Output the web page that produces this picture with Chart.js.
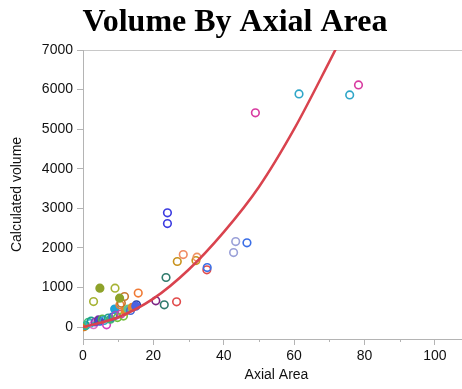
<!DOCTYPE html>
<html>
<head>
<meta charset="utf-8">
<script src="https://cdn.jsdelivr.net/npm/chart.js"></script>
<style>
  html, body { margin: 0; padding: 0; background: #fff; overflow: hidden; }
  #wrap { position: relative; width: 490px; height: 389px; }
</style>
</head>
<body>
<div id="wrap"><canvas id="chart"></canvas></div>
<script>
// measured specimens: axial area vs calculated volume
const axialArea = [0.3, 0.8, 1.5, 2.0, 2.3, 3.0, 3.5, 4.4, 4.8, 5.5, 6.0, 6.7, 7.2, 7.8, 8.5, 9.0, 9.3, 9.8,
  10.5, 10.9, 10.8, 11.5, 11.8, 12.0, 12.8, 13.5, 14.0, 15.2, 15.0, 15.7, 4.8, 9.1, 3.0, 10.4,
  20.7, 23.1, 23.6, 26.6, 26.8, 28.5, 32.1, 32.4, 35.2, 35.3, 24.0, 24.0, 42.8, 43.4, 46.6, 49.0, 61.4, 75.8, 78.3];
const volume = [10, 40, 120, 90, 150, 60, 130, 183, 150, 200, 170, 58, 230, 200, 260, 455, 300, 240,
  563, 606, 330, 280, 773, 400, 455, 420, 500, 563, 530, 859, 985, 985, 646, 732,
  664, 563, 1253, 639, 1657, 1833, 1682, 1768, 1447, 1505, 2886, 2616, 1884, 2162, 2129, 5412, 5891, 5866, 6119];

// trend curve
const fitArea = [0, 10, 20, 30, 40, 50, 60, 70, 72];
const fitVolume = [0, 250, 720, 1450, 2400, 3540, 5000, 6700, 7050];

const xTicks = { min: 0, max: 110, step: 10, labelEvery: 20 };
const yTicks = { min: -300, max: 7000, step: 1000 };

// marker styling
const markerColors = ['#e07b1a', '#27b3a0', '#3cc07a', '#2fb2cf', '#1a9e8a', '#e070c8', '#8a3fb5', '#7a2fa0',
  '#3355d6', '#55b84a', '#2ea6c6', '#d23fbf', '#20a08e', '#3fb47a', '#3a62d8', '#1fa3d6', '#9552c4', '#6dc23c',
  '#e8803a', '#c87426', '#c24aa8', '#79c242', '#c87830', '#e58a2a', '#5ec491', '#4768d8', '#e8892e', '#233fa6',
  '#4a63e2', '#f07a35', '#8ea22a', '#a6b334', '#a6b334', '#8ea22a', '#7b2283', '#2f7a6c', '#2f7a6c', '#e14b4b',
  '#c8921c', '#f08a62', '#c8921c', '#f09262', '#e14b4b', '#3a6ee6', '#3b3be0', '#3b3be0', '#9aa0d8', '#9aa0d8',
  '#3a6ee6', '#d83aa0', '#2fa6c8', '#2fa6c8', '#d83aa0'];
const solidMarkers = [0, 7, 13, 15, 23, 24, 26, 28, 30, 33];

const AXIS = '#b4b4b4';

// short ticks between labelled ones on the x axis
const minorTicks = {
  id: 'minorTicks',
  afterDraw(chart) {
    const sx = chart.scales.x;
    const ctx = chart.ctx;
    ctx.save();
    ctx.strokeStyle = AXIS;
    ctx.lineWidth = 1;
    for (let v = xTicks.min; v <= xTicks.max; v += xTicks.step) {
      if (v % xTicks.labelEvery === 0) continue;
      const px = Math.round(sx.getPixelForValue(v)) + 0.5;
      ctx.beginPath();
      ctx.moveTo(px, sx.top);
      ctx.lineTo(px, sx.top + 3);
      ctx.stroke();
    }
    ctx.restore();
  }
};

const points = axialArea.map((x, i) => ({ x, y: volume[i] }));
const curve = fitArea.map((x, i) => ({ x, y: fitVolume[i] }));

new Chart(document.getElementById('chart'), {
  type: 'scatter',
  data: {
    datasets: [
      {
        type: 'line',
        data: curve,
        borderColor: '#d9434e',
        borderWidth: 2.5,
        pointRadius: 0,
        cubicInterpolationMode: 'monotone',
        fill: false,
        order: 0
      },
      {
        data: points,
        pointRadius: 3.8,
        borderWidth: 1.6,
        pointBorderColor: markerColors,
        pointBackgroundColor: markerColors.map((c, i) => solidMarkers.includes(i) ? c : 'rgba(0,0,0,0)'),
        order: 1
      }
    ]
  },
  options: {
    responsive: true,
    maintainAspectRatio: false,
    animation: false,
    layout: { padding: { left: 0, right: 20, top: 0, bottom: 0 } },
    plugins: {
      legend: { display: false },
      tooltip: { enabled: false },
      title: {
        display: true,
        text: 'Volume By Axial Area',
        color: '#000',
        font: { family: '"Liberation Serif", "Times New Roman", serif', size: 32, weight: 'bold' },
        padding: { top: 4, bottom: 7.6 }
      }
    },
    scales: {
      x: {
        type: 'linear',
        min: xTicks.min,
        max: xTicks.max,
        afterFit(scale) { scale.height = 50; },
        border: { color: AXIS, width: 1 },
        grid: {
          drawOnChartArea: false,
          tickLength: 6,
          tickColor: ctx => (ctx.tick && ctx.tick.value % xTicks.labelEvery === 0) ? AXIS : 'rgba(0,0,0,0)'
        },
        ticks: {
          stepSize: xTicks.step,
          padding: 3,
          maxRotation: 0,
          autoSkip: false,
          color: '#111',
          font: { family: '"Liberation Sans", Arial, sans-serif', size: 14 },
          callback: v => v % xTicks.labelEvery === 0 ? String(v) : ''
        },
        title: {
          display: true,
          text: 'Axial Area',
          color: '#111',
          font: { family: '"Liberation Sans", Arial, sans-serif', size: 14 },
          padding: { top: 0, bottom: 5 }
        }
      },
      y: {
        type: 'linear',
        min: yTicks.min,
        max: yTicks.max,
        afterFit(scale) { scale.width = 83; },
        afterBuildTicks(scale) {
          scale.ticks = [];
          for (let v = 0; v <= yTicks.max; v += yTicks.step) scale.ticks.push({ value: v });
        },
        border: { color: AXIS, width: 1 },
        grid: {
          drawOnChartArea: true,
          tickLength: 6,
          tickColor: AXIS,
          color: ctx => (ctx.tick && ctx.tick.value === yTicks.max) ? '#c8c8c8' : 'rgba(0,0,0,0)'
        },
        ticks: {
          padding: 4,
          color: '#111',
          font: { family: '"Liberation Sans", Arial, sans-serif', size: 14 },
          callback: v => String(v)
        },
        title: {
          display: true,
          text: 'Calculated volume',
          color: '#111',
          font: { family: '"Liberation Sans", Arial, sans-serif', size: 14 },
          padding: { top: 9, bottom: 0 }
        }
      }
    }
  },
  plugins: [minorTicks]
});
</script>
</body>
</html>
